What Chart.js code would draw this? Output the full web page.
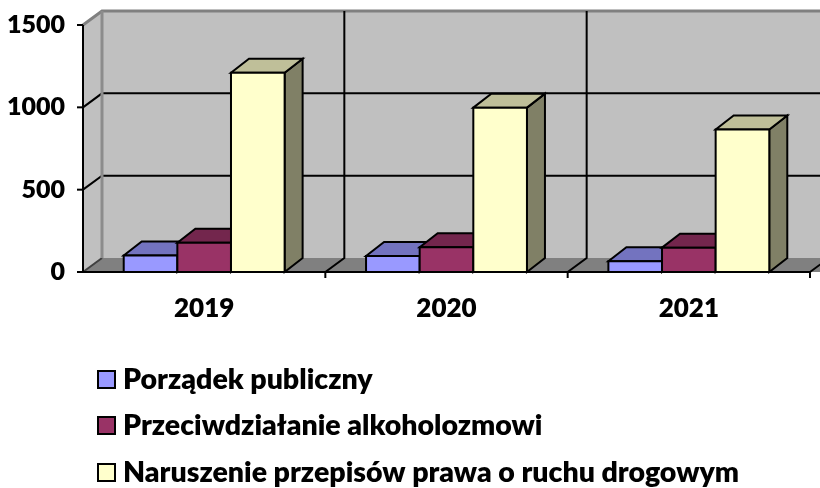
<!DOCTYPE html>
<html>
<head>
<meta charset="utf-8">
<script src="https://cdn.jsdelivr.net/npm/chart.js@4/dist/chart.umd.min.js"></script>
<style>
  body { margin: 0; background: #fff; }
  #wrap { width: 820px; height: 488px; }
</style>
</head>
<body>
<div id="wrap"><canvas id="chart" width="820" height="488"></canvas></div>
<script>
// data
var years = ['2019', '2020', '2021'];
var seriesNames = ['Porządek publiczny', 'Przeciwdziałanie alkoholozmowi', 'Naruszenie przepisów prawa o ruchu drogowym'];
var porzadek = [100, 97, 65];
var alkohol = [178, 150, 148];
var drogowe = [1210, 998, 865];
var yTicks = [0, 500, 1000, 1500];

var FONT = 'Lato, "Noto Sans", sans-serif';
var WEIGHT = 800;
// front, top, side colours per series
var faces = [
    ['#9999FF', '#7373BF', '#4D4D80'],
    ['#993366', '#73264D', '#4D1A33'],
    ['#FFFFCC', '#BFBF99', '#808066']
];
var WX = 19, WY = -14;   // depth of walls
var BX = 18, BY = -14;   // depth of bars

function line(ctx, pts, color, w) {
    ctx.beginPath();
    ctx.moveTo(pts[0][0], pts[0][1]);
    for (var i = 1; i < pts.length; i++) ctx.lineTo(pts[i][0], pts[i][1]);
    ctx.strokeStyle = color;
    ctx.lineWidth = w;
    ctx.stroke();
}

function poly(ctx, pts, fill, stroke, w) {
    ctx.beginPath();
    ctx.moveTo(pts[0][0], pts[0][1]);
    for (var i = 1; i < pts.length; i++) ctx.lineTo(pts[i][0], pts[i][1]);
    ctx.closePath();
    ctx.fillStyle = fill;
    ctx.fill();
    if (stroke) {
        ctx.strokeStyle = stroke;
        ctx.lineWidth = w;
        ctx.stroke();
    }
}

function boundaries(xs, n) {
    var b = [];
    for (var i = 1; i < n; i++) b.push((xs.getPixelForValue(i - 1) + xs.getPixelForValue(i)) / 2);
    b.push(xs.right);
    return b;
}

var walls3d = {
    id: 'walls3d',
    beforeDatasetsDraw: function (chart) {
        var ctx = chart.ctx, a = chart.chartArea;
        var ys = chart.scales.y, xs = chart.scales.x;
        var yTop = ys.getPixelForValue(yTicks[yTicks.length - 1]);
        var y0 = ys.getPixelForValue(0);
        ctx.save();
        ctx.lineJoin = 'miter';
        // back wall + left wall
        poly(ctx, [[a.left + WX, yTop + WY], [a.right + WX + 20, yTop + WY], [a.right + WX + 20, y0 + WY], [a.left + WX, y0 + WY]], '#C0C0C0');
        poly(ctx, [[a.left, yTop], [a.left + WX, yTop + WY], [a.left + WX, y0 + WY], [a.left, y0]], '#C0C0C0');
        // floor
        poly(ctx, [[a.left, y0], [a.left + WX, y0 + WY], [a.right + WX + 20, y0 + WY], [a.right + 20, y0]], '#808080');
        // horizontal grid lines
        yTicks.forEach(function (v) {
            var py = ys.getPixelForValue(v);
            if (v === 0) {
                line(ctx, [[a.left, py], [a.left + WX, py + WY]], '#404040', 2);
            } else if (v === yTicks[yTicks.length - 1]) {
                line(ctx, [[a.left, py], [a.left + WX, py + WY], [a.right + WX + 20, py + WY]], '#808080', 3);
            } else {
                line(ctx, [[a.left, py], [a.left + WX, py + WY], [a.right + WX + 20, py + WY]], '#000', 2);
            }
        });
        // vertical grid lines on back wall and floor
        boundaries(xs, years.length).forEach(function (bx) {
            line(ctx, [[bx, y0], [bx + WX, y0 + WY], [bx + WX, yTop + WY]], '#000', 2);
        });
        // edge between left and back wall
        line(ctx, [[a.left + WX, yTop + WY], [a.left + WX, y0 + WY]], '#8C8C8C', 3);
        // axes
        line(ctx, [[a.left, yTop], [a.left, y0], [a.right, y0]], '#000', 2);
        yTicks.forEach(function (v) {
            var py = ys.getPixelForValue(v);
            line(ctx, [[a.left - 6, py], [a.left, py]], '#000', 2);
        });
        boundaries(xs, years.length).forEach(function (bx) {
            line(ctx, [[bx, y0], [bx, y0 + 6]], '#000', 2);
        });
        ctx.restore();
    },
    afterDatasetsDraw: function (chart) {
        var ctx = chart.ctx;
        ctx.save();
        ctx.lineJoin = 'miter';
        for (var i = 0; i < years.length; i++) {
            chart.data.datasets.forEach(function (ds, d) {
                var el = chart.getDatasetMeta(d).data[i];
                var p = el.getProps(['x', 'y', 'base', 'width'], true);
                var l = p.x - p.width / 2, r = p.x + p.width / 2;
                var c = faces[d];
                poly(ctx, [[r, p.y], [r + BX, p.y + BY], [r + BX, p.base + BY], [r, p.base]], c[2], '#000', 2);
                poly(ctx, [[l, p.y], [l + BX, p.y + BY], [r + BX, p.y + BY], [r, p.y]], c[1], '#000', 2);
                poly(ctx, [[l, p.y], [r, p.y], [r, p.base], [l, p.base]], c[0], '#000', 2);
            });
        }
        ctx.restore();
    },
    afterDraw: function (chart) {
        // legend, one entry per row
        var ctx = chart.ctx;
        var rows = [379, 425, 472];
        ctx.save();
        ctx.font = WEIGHT + ' 28.5px ' + FONT;
        ctx.textBaseline = 'middle';
        ctx.textAlign = 'left';
        chart.data.datasets.forEach(function (ds, d) {
            var cy = rows[d];
            ctx.fillStyle = faces[d][0];
            ctx.fillRect(98, cy - 8, 17, 17);
            ctx.strokeStyle = '#000';
            ctx.lineWidth = 2;
            ctx.strokeRect(98, cy - 8, 17, 17);
            ctx.fillStyle = '#000';
            ctx.fillText(ds.label, 123, cy + 1);
        });
        ctx.restore();
    }
};

new Chart(document.getElementById('chart'), {
    type: 'bar',
    data: {
        labels: years,
        datasets: [
            { label: seriesNames[0], data: porzadek, backgroundColor: faces[0][0], borderColor: '#000', borderWidth: 2 },
            { label: seriesNames[1], data: alkohol, backgroundColor: faces[1][0], borderColor: '#000', borderWidth: 2 },
            { label: seriesNames[2], data: drogowe, backgroundColor: faces[2][0], borderColor: '#000', borderWidth: 2 }
        ]
    },
    options: {
        responsive: false,
        animation: false,
        devicePixelRatio: 1,
        layout: { padding: { left: 0, top: 25, right: 10, bottom: 150 } },
        datasets: { bar: { barPercentage: 1, categoryPercentage: 0.664 } },
        plugins: { legend: { display: false }, tooltip: { enabled: false } },
        scales: {
            x: {
                grid: { display: false },
                border: { display: false },
                ticks: { color: '#000', padding: 13, font: { family: FONT, size: 26, weight: WEIGHT } },
                afterFit: function (s) { s.height = 66; }
            },
            y: {
                min: 0,
                max: 1500,
                grid: { display: false },
                border: { display: false },
                ticks: {
                    stepSize: 500, color: '#000', padding: 10,
                    font: { family: FONT, size: 25, weight: WEIGHT },
                    callback: function (v) { return String(v); }
                },
                afterFit: function (s) { s.width = 83; }
            }
        }
    },
    plugins: [walls3d]
});
</script>
</body>
</html>
